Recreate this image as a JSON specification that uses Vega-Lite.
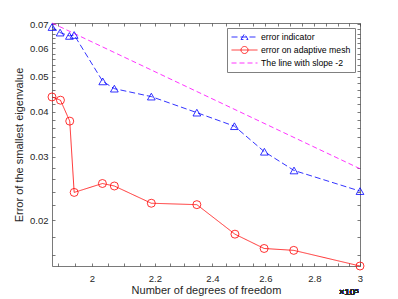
{
  "$schema": "https://vega.github.io/schema/vega-lite/v6.json",
  "width": 308,
  "height": 243,
  "autosize": {"type": "none"},
  "padding": {"left": 52, "top": 23, "right": 38, "bottom": 33},
  "background": "white",
  "config": {
    "font": "Liberation Sans",
    "view": {"stroke": null},
    "axis": {
      "domainColor": "#404040", "domainWidth": 0.7,
      "tickColor": "#404040", "tickWidth": 0.7, "tickSize": -3,
      "labelColor": "#262626", "labelFontSize": 9.5, "labelFont": "Liberation Sans",
      "titleFont": "Liberation Sans", "titleFontSize": 11, "titleFontWeight": "normal", "titleColor": "#262626",
      "grid": false, "labelFlush": false, "labelOverlap": false
    }
  },
  "data": {
    "values": [
      {"series": "error indicator", "dof": 188280, "err": 0.0688},
      {"series": "error indicator", "dof": 190600, "err": 0.0664},
      {"series": "error indicator", "dof": 193300, "err": 0.0650},
      {"series": "error indicator", "dof": 194700, "err": 0.0654},
      {"series": "error indicator", "dof": 203300, "err": 0.0486},
      {"series": "error indicator", "dof": 206900, "err": 0.0464},
      {"series": "error indicator", "dof": 218800, "err": 0.0441},
      {"series": "error indicator", "dof": 234400, "err": 0.0398},
      {"series": "error indicator", "dof": 248100, "err": 0.0365},
      {"series": "error indicator", "dof": 259600, "err": 0.0310},
      {"series": "error indicator", "dof": 271500, "err": 0.0275},
      {"series": "error indicator", "dof": 300000, "err": 0.0241},
      {"series": "error on adaptive mesh", "dof": 188280, "err": 0.0440},
      {"series": "error on adaptive mesh", "dof": 190700, "err": 0.0431},
      {"series": "error on adaptive mesh", "dof": 193400, "err": 0.0377},
      {"series": "error on adaptive mesh", "dof": 194700, "err": 0.0239},
      {"series": "error on adaptive mesh", "dof": 203200, "err": 0.0253},
      {"series": "error on adaptive mesh", "dof": 206900, "err": 0.0249},
      {"series": "error on adaptive mesh", "dof": 218800, "err": 0.0223},
      {"series": "error on adaptive mesh", "dof": 234400, "err": 0.0221},
      {"series": "error on adaptive mesh", "dof": 248300, "err": 0.0183},
      {"series": "error on adaptive mesh", "dof": 259500, "err": 0.0167},
      {"series": "error on adaptive mesh", "dof": 271400, "err": 0.0165},
      {"series": "error on adaptive mesh", "dof": 300000, "err": 0.01493},
      {"series": "The line with slope -2", "dof": 188280, "err": 0.0706},
      {"series": "The line with slope -2", "dof": 300000, "err": 0.02781}
    ]
  },
  "layer": [
    {
      "mark": {"type": "line", "strokeWidth": 0.8},
      "encoding": {
        "x": {
          "field": "dof", "type": "quantitative",
          "scale": {"type": "log", "domain": [188280, 300000], "nice": false},
          "axis": {
            "orient": "bottom", "title": "Number of degrees of freedom",
            "values": [190000,195000,200000,205000,210000,215000,220000,225000,230000,235000,240000,245000,250000,255000,260000,265000,270000,275000,280000,285000,290000,295000,300000],
            "labelExpr": "round(datum.value/1000) % 20 == 0 ? format(datum.value/100000, '~g') : ''",
            "labelPadding": 10, "titlePadding": 2
          }
        },
        "y": {
          "field": "err", "type": "quantitative",
          "scale": {"type": "log", "domain": [0.01493, 0.0706], "nice": false},
          "axis": {
            "orient": "left", "title": "Error of the smallest eigenvalue",
            "values": [0.016,0.018,0.02,0.022,0.024,0.026,0.028,0.03,0.032,0.034,0.036,0.038,0.04,0.042,0.044,0.046,0.048,0.05,0.052,0.054,0.056,0.058,0.06,0.062,0.064,0.066,0.068,0.07],
            "labelExpr": "abs(datum.value*100 - round(datum.value*100)) < 0.001 ? format(datum.value, '.2f') : ''",
            "labelPadding": 7, "titlePadding": 5
          }
        },
        "color": {
          "field": "series", "type": "nominal",
          "scale": {"domain": ["error indicator", "error on adaptive mesh", "The line with slope -2"], "range": ["#0000ff", "#ff0000", "#ff00ff"]},
          "legend": {
            "title": null, "orient": "top-right", "offset": 5,
            "symbolSize": 81, "symbolStrokeWidth": 0.8,
            "labelFontSize": 8.7, "labelFont": "Liberation Sans", "labelColor": "#000000",
            "strokeColor": "#808080", "fillColor": "white", "padding": 4, "rowPadding": 2, "labelOffset": 20,
            "encode": {
              "symbols": {
                "update": {
                  "shape": {"signal": "datum.value === 'error indicator' ? 'M-1,0L4.78,0M1.11,0.55L1.89,-0.72L2.67,0.55Z' : datum.value === 'error on adaptive mesh' ? 'M-1,0L4.78,0M2.67,0A0.78,0.78 0 1,1 1.11,0A0.78,0.78 0 1,1 2.67,0' : 'M-1,0L4.78,0'"},
                  "strokeDash": {"signal": "datum.value === 'error on adaptive mesh' ? [1,0] : [5,3]"},
                  "fill": {"value": "transparent"}
                }
              }
            }
          }
        },
        "strokeDash": {
          "field": "series", "type": "nominal",
          "scale": {"domain": ["error indicator", "error on adaptive mesh", "The line with slope -2"], "range": [[6,3],[1,0],[5,3]]},
          "legend": null
        }
      }
    },
    {
      "transform": [{"filter": "datum.series === 'error indicator'"}],
      "mark": {"type": "point", "shape": "triangle-up", "size": 60, "filled": false, "color": "#0000ff", "strokeWidth": 0.8, "opacity": 1},
      "encoding": {
        "x": {
          "field": "dof", "type": "quantitative",
          "scale": {"type": "log", "domain": [188280, 300000], "nice": false},
          "axis": {
            "orient": "top", "title": null, "labels": false,
            "values": [190000,195000,200000,205000,210000,215000,220000,225000,230000,235000,240000,245000,250000,255000,260000,265000,270000,275000,280000,285000,290000,295000,300000]
          }
        },
        "y": {
          "field": "err", "type": "quantitative",
          "scale": {"type": "log", "domain": [0.01493, 0.0706], "nice": false},
          "axis": {
            "orient": "right", "title": null, "labels": false,
            "values": [0.016,0.018,0.02,0.022,0.024,0.026,0.028,0.03,0.032,0.034,0.036,0.038,0.04,0.042,0.044,0.046,0.048,0.05,0.052,0.054,0.056,0.058,0.06,0.062,0.064,0.066,0.068,0.07]
          }
        }
      }
    },
    {
      "transform": [{"filter": "datum.series === 'error on adaptive mesh'"}],
      "mark": {"type": "point", "shape": "circle", "size": 64, "filled": false, "color": "#ff0000", "strokeWidth": 0.8, "opacity": 1},
      "encoding": {
        "x": {"field": "dof", "type": "quantitative", "scale": {"type": "log", "domain": [188280, 300000], "nice": false}, "axis": null},
        "y": {"field": "err", "type": "quantitative", "scale": {"type": "log", "domain": [0.01493, 0.0706], "nice": false}, "axis": null}
      }
    },
    {
      "mark": {"type": "text", "text": "×10⁵", "align": "right", "baseline": "alphabetic", "dx": -1, "dy": 29, "fontSize": 9.5, "font": "Liberation Sans", "color": "#262626"},
      "encoding": {
        "x": {"datum": 300000, "type": "quantitative", "axis": null},
        "y": {"datum": 0.01493, "type": "quantitative", "axis": null}
      }
    }
  ],
  "resolve": {"axis": {"x": "independent", "y": "independent"}}
}
